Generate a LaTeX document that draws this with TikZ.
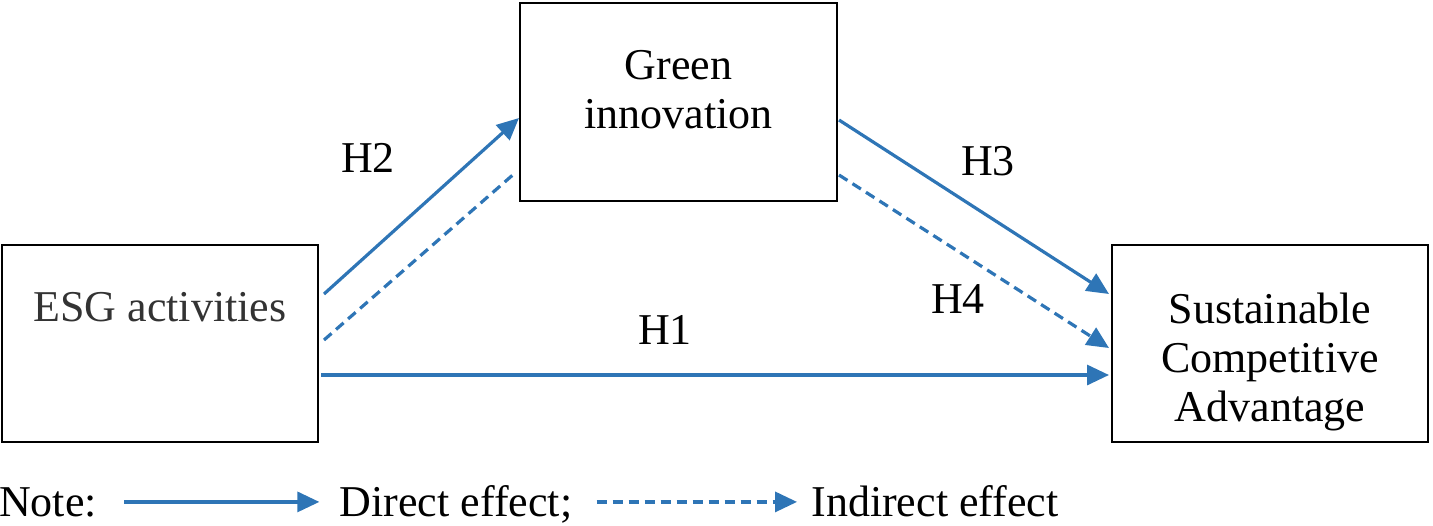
\documentclass[tikz,border=0pt]{standalone}
\usepackage{fontspec}
\setmainfont{Liberation Serif}
\usetikzlibrary{positioning,arrows.meta,calc}

\begin{document}
\begin{tikzpicture}
	[x=0.5pt,y=-0.5pt,font=\fontsize{22}{24.5}\selectfont,
	bx/.style={draw=black,line width=1pt,minimum width=158pt,minimum height=98.5pt,inner sep=0pt},
	txt/.style={inner sep=0pt,align=center},
	direct/.style={-{Triangle[length=11pt,width=10pt]},line width=1.6pt,draw={rgb, 255:red, 46; green, 117; blue, 182 }},
	indirect/.style={direct,dash pattern=on 5pt off 3pt}]
	\useasboundingbox (0,0) rectangle (1433,525);
	\begin{scope}[every node/.style={inner sep=0pt}]
	%BOXES
	\node[bx] (esg) at (160,343.5) {};
	\node[bx,minimum width=158.5pt,minimum height=99pt] (green) at (678.5,102) {};
	\node[bx] (sca) at (1270,343.5) {};
	\node[txt,text=black!80] (esgtxt) at ([yshift=18pt]esg.center) {ESG activities};
	\node[txt] (greentxt) at ([yshift=6pt]green.center) {Green\\innovation};
	\node[txt] (scatxt) at ([yshift=-9pt]sca.center) {Sustainable\\Competitive\\Advantage};
	%HYPOTHESES
	\foreach \x/\px/\py in {1/665/330,2/368/158,3/988/161,4/958/299}
	\node[txt] (h\x) at (\px,\py) {H\x};
	%PATHS
	\draw[direct] ([xshift=2.5pt,yshift=24.75pt]esg.east) -- ([yshift=-8pt]green.west);
	\draw[indirect,-] ([xshift=2.5pt,yshift=1.75pt]esg.east) -- ([xshift=-2pt,yshift=-35.5pt]green.west);
	\draw[direct] ([xshift=0.5pt,yshift=-9pt]green.east) -- ([xshift=-1pt,yshift=24.75pt]sca.west);
	\draw[indirect] ([xshift=0.5pt,yshift=-36.5pt]green.east) -- ([xshift=-1pt,yshift=-2.25pt]sca.west);
	\draw[direct] ([xshift=1pt,yshift=-15.75pt]esg.east) -- ([xshift=-1pt,yshift=-15.75pt]sca.west);
	%LEGEND
	\node[txt,anchor=base] (note) at (48,516) {Note:};
	\node[txt,anchor=base] (dirtxt) at (456,516) {Direct effect;};
	\node[txt,anchor=base] (indtxt) at (935,516) {Indirect effect};
	\draw[direct] ([xshift=13.5pt]note.east) -- ([xshift=-10pt]note.east -| dirtxt.west);
	\draw[indirect] ([xshift=12pt]note.east -| dirtxt.east) -- ([xshift=-7pt]note.east -| indtxt.west);
	\end{scope}
\end{tikzpicture}
\end{document}
